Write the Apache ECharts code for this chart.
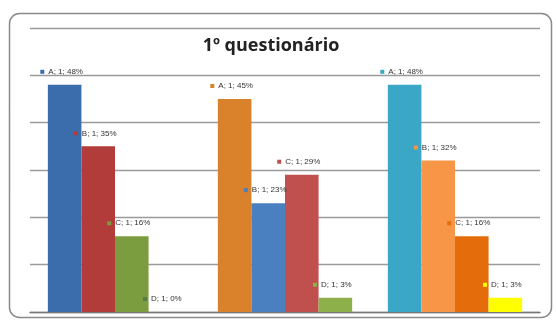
<!DOCTYPE html>
<html>
<head>
<meta charset="utf-8">
<script src="https://cdn.jsdelivr.net/npm/echarts@6/dist/echarts.min.js"></script>
<style>html,body{margin:0;padding:0;background:#fff}#c{width:556px;height:320px}</style>
</head>
<body>
<div id="c"></div>
<script>
const titleText = '1º questionário';
const categories = ['Q1', 'Q2', 'Q3'];
const labelCategory = ['1', '1', '1'];
const seriesNames = ['A', 'B', 'C', 'D'];
const valuesA = [48, 45, 48];
const valuesB = [35, 23, 32];
const valuesC = [16, 29, 16];
const valuesD = [0, 3, 3];
const yTicks = [0, 10, 20, 30, 40, 50, 60];
// colours per series, per group
const colorsA = ['#3b6dad', '#d9822b', '#3ba7c6'];
const colorsB = ['#b23c3a', '#4a7fc0', '#f79646'];
const colorsC = ['#7c9c40', '#c0504d', '#e46c0a'];
const colorsD = ['#5a7a45', '#8db04a', '#ffff00'];

const allValues = [valuesA, valuesB, valuesC, valuesD];
const allColors = [colorsA, colorsB, colorsC, colorsD];

const series = seriesNames.map((name, s) => {
  const rich = { t: { fontSize: 8, fontFamily: 'Liberation Sans', color: '#333', padding: [0, 0, 0, 4] } };
  allColors[s].forEach((c, g) => { rich['m' + g] = { width: 4, height: 4, backgroundColor: c }; });
  return {
    name,
    type: 'bar',
    barGap: '0%',
    barCategoryGap: '21%',
    data: allValues[s].map((v, g) => ({ value: v, itemStyle: { color: allColors[s][g] } })),
    label: {
      show: true,
      position: 'top',
      distance: 9,
      offset: [-3, 0],
      formatter: p => `{m${p.dataIndex}|}{t|${name}; ${labelCategory[p.dataIndex]}; ${p.value}%}`,
      rich
    }
  };
});

const chart = echarts.init(document.getElementById('c'), null, { renderer: 'canvas' });
chart.setOption({
  animation: false,
  backgroundColor: '#fff',
  title: {
    text: titleText,
    left: 266,
    textAlign: 'center',
    top: 32,
    textStyle: { fontFamily: 'Open Sans', fontSize: 18, fontWeight: 'bold', color: '#222' }
  },
  graphic: [{
    type: 'rect',
    shape: { x: 9.5, y: 13.5, width: 542, height: 304, r: 10 },
    style: { fill: 'none', stroke: '#8a8a8a', lineWidth: 1.5 },
    z: -1
  }],
  grid: { left: 30, right: 16, top: 28, bottom: 8 },
  xAxis: {
    type: 'category',
    data: categories,
    axisLabel: { show: false },
    axisTick: { show: false },
    axisLine: { lineStyle: { color: '#777', width: 1.3 } }
  },
  yAxis: {
    type: 'value',
    min: yTicks[0],
    max: yTicks[yTicks.length - 1],
    interval: yTicks[1] - yTicks[0],
    axisLabel: { show: false },
    axisTick: { show: false },
    axisLine: { show: false },
    splitLine: { lineStyle: { color: '#9a9a9a', width: 1.3 } }
  },
  series
});
</script>
</body>
</html>
